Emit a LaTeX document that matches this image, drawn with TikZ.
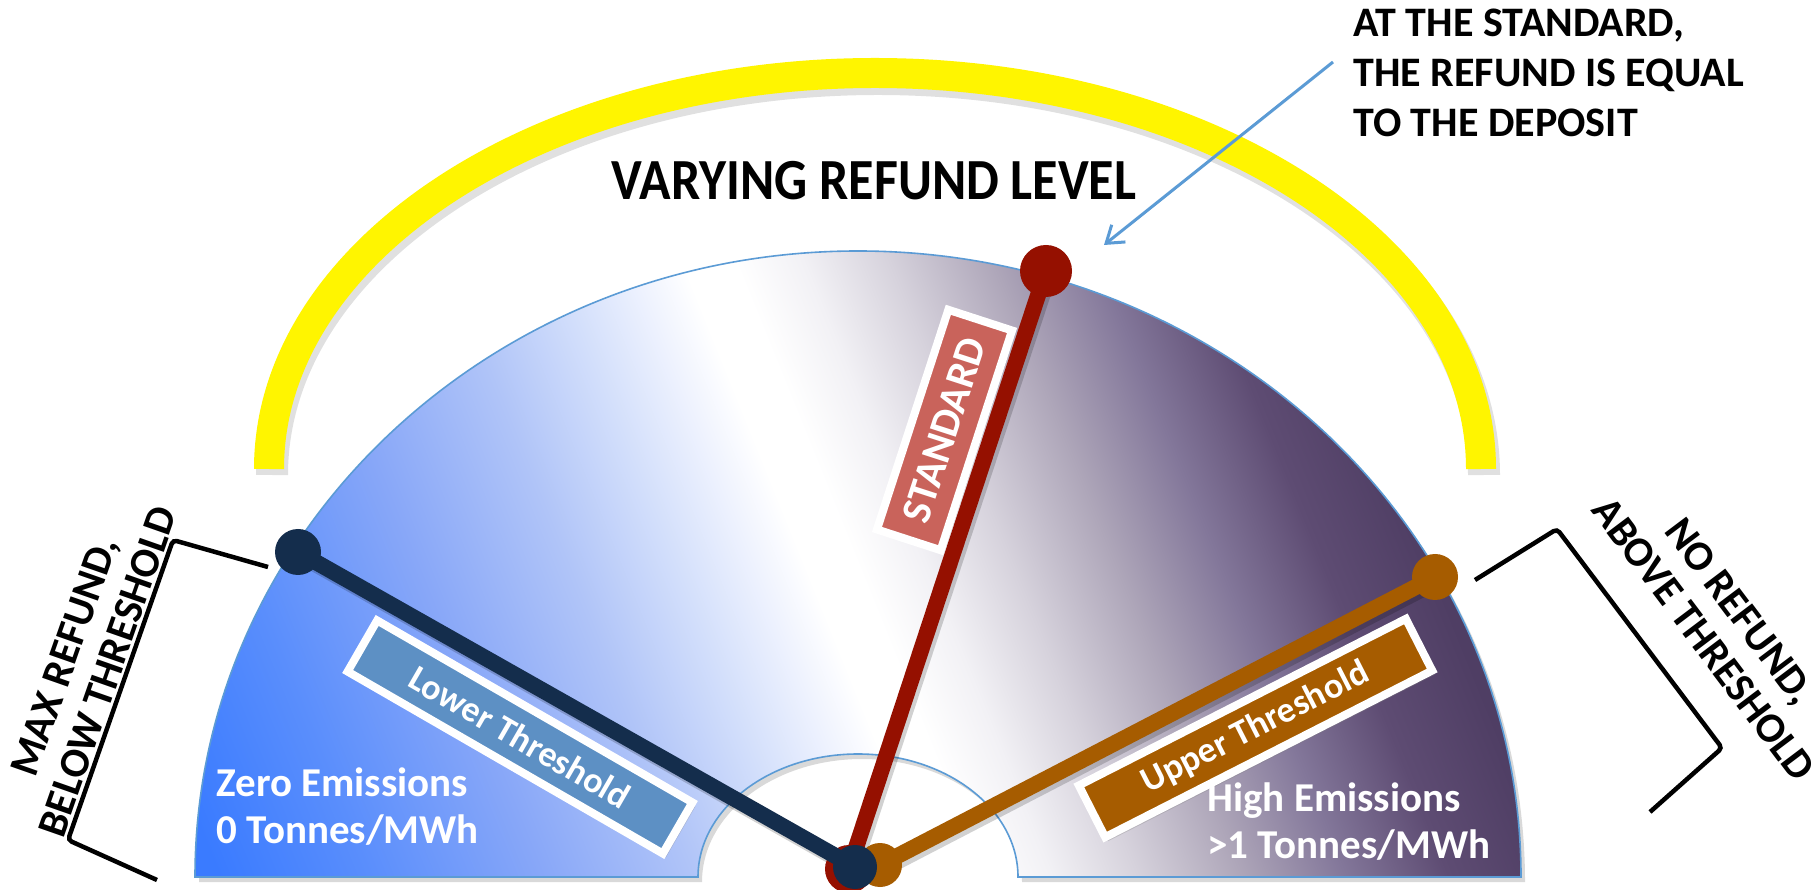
\documentclass[tikz,border=0pt]{standalone}
\usepackage{fontspec}
\setmainfont{Carlito}
\usetikzlibrary{arrows.meta,shadows}

% gauge gradient stops (blue -> white -> purple)
\definecolor{shA}{HTML}{3A7BFF}
\definecolor{shB}{HTML}{5A8EFC}
\definecolor{shC}{HTML}{88A7F8}
\definecolor{shD}{HTML}{B0C4F8}
\definecolor{shE}{HTML}{D3DFFB}
\definecolor{shF}{HTML}{EEF2FE}
\definecolor{shG}{HTML}{FFFFFF}
\definecolor{shH}{HTML}{F2F1F5}
\definecolor{shI}{HTML}{D6D2DC}
\definecolor{shJ}{HTML}{AEA6B9}
\definecolor{shK}{HTML}{83779A}
\definecolor{shL}{HTML}{5E4C73}
\definecolor{shM}{HTML}{4F3E64}
\definecolor{rimblue}{HTML}{5B9BD5}
\definecolor{navyneedle}{HTML}{142D4C}
\definecolor{redneedle}{HTML}{951000}
\definecolor{brownneedle}{HTML}{A65C00}
\definecolor{lowerfill}{HTML}{5D90C4}
\definecolor{standardfill}{HTML}{C9635B}
\definecolor{upperfill}{HTML}{A65C00}
\definecolor{bandyellow}{HTML}{FFF500}

% position along the gradient axis s (px) maps to 50bp + s/40
\pgfdeclarehorizontalshading{gaugeshade}{100bp}{color(0bp)=(shA); color(32.5bp)=(shA); color(36bp)=(shB); color(40bp)=(shC); color(43.5bp)=(shD); color(46bp)=(shE); color(47.8bp)=(shF); color(49bp)=(shG); color(50.2bp)=(shG); color(51.8bp)=(shH); color(53.8bp)=(shI); color(56.2bp)=(shJ); color(58.6bp)=(shK); color(61bp)=(shL); color(63.5bp)=(shM); color(100bp)=(shM)}

\begin{document}
\begin{tikzpicture}[x=0.5pt,y=0.5pt,
  needle/.style={line width=8pt},
  needleshadow/.style={line width=8pt, black, opacity=0.18},
  labelbox/.style={draw=white, line width=4pt, text=white, inner sep=0pt,
    font=\bfseries\fontsize{18pt}{21pt}\selectfont,
    drop shadow={opacity=0.3, shadow xshift=1.5pt, shadow yshift=-2pt}},
  titletext/.style={font=\bfseries\fontsize{26pt}{31pt}\selectfont},
  calltext/.style={font=\bfseries\fontsize{21pt}{25pt}\selectfont, inner sep=0pt},
  gaugetext/.style={text=white, inner sep=0pt, font=\bfseries\fontsize{20.5pt}{23.5pt}\selectfont},
  sidetext/.style={inner sep=0pt, font=\bfseries\fontsize{21pt}{23pt}\selectfont},
  bracket/.style={line width=2.25pt, rounded corners=2pt},
  callarrow/.style={draw=rimblue, line width=1.5pt, -{Straight Barb[length=8pt,width=11pt,line width=1.5pt]}}
]
\useasboundingbox (0,0) rectangle (1819,889);
\fill[white] (0,0) rectangle (1819,889);

% yellow band over the dial
\draw[line width=16pt, black, opacity=0.12] (272,414) arc[start angle=180, end angle=0, x radius=606, y radius=396];
\draw[line width=15pt, bandyellow] (269,420) arc[start angle=180, end angle=0, x radius=606, y radius=396];

\node[titletext, anchor=base] (title) at (874,689) {\scalebox{1}[1.12]{VARYING REFUND LEVEL}};

% dial shadow
\fill[black, opacity=0.15] (199,7) arc[start angle=180, end angle=0, x radius=663, y radius=626]
  -- (1022,7) arc[start angle=0, end angle=180, x radius=160, y radius=123] -- cycle;
% dial face
\begin{scope}
  \clip (195,12) arc[start angle=180, end angle=0, x radius=663, y radius=626]
    -- (1018,12) arc[start angle=0, end angle=180, x radius=160, y radius=123] -- cycle;
  \begin{scope}[transform canvas={rotate around={22:(858,300)}}]
    \shade[shading=gaugeshade] (-142,-700) rectangle (1858,1300);
  \end{scope}
\end{scope}
\draw[rimblue, line width=0.8pt] (195,12) arc[start angle=180, end angle=0, x radius=663, y radius=626]
  -- (1018,12) arc[start angle=0, end angle=180, x radius=160, y radius=123] -- cycle;

% needle end points
\coordinate (redhub) at (849,20);
\coordinate (redtip) at (1046,618);
\coordinate (brownhub) at (880,24);
\coordinate (browntip) at (1435,312);
\coordinate (navyhub) at (855,22);
\coordinate (navytip) at (298,337);

% needle shadows
\draw[needleshadow] ([shift={(3,-4)}]redhub) -- ([shift={(3,-4)}]redtip);
\draw[needleshadow] ([shift={(3,-4)}]brownhub) -- ([shift={(3,-4)}]browntip);
\draw[needleshadow] ([shift={(3,-4)}]navyhub) -- ([shift={(3,-4)}]navytip);

% needles
\draw[needle, redneedle] (redhub) -- (redtip);
\fill[redneedle] (redtip) circle[radius=26];
\fill[redneedle] (redhub) circle[radius=24];
\draw[needle, brownneedle] (brownhub) -- (browntip);
\fill[brownneedle] (browntip) circle[radius=23];
\fill[brownneedle] (brownhub) circle[radius=22];
\draw[needle, navyneedle] (navyhub) -- (navytip);
\fill[navyneedle] (navytip) circle[radius=23];
\fill[navyneedle] (navyhub) circle[radius=22];

% needle labels
\node[labelbox, fill=lowerfill, rotate=-30, minimum width=182pt, minimum height=29.5pt] (lowerbox) at (520,152) {Lower Threshold};
\node[labelbox, fill=standardfill, rotate=72, minimum width=115.5pt, minimum height=33.5pt,
  font=\bfseries\fontsize{21pt}{24pt}\selectfont] (standardbox) at (944.5,459) {STANDARD};
\node[labelbox, fill=upperfill, rotate=27, minimum width=183.5pt, minimum height=29pt] (upperbox) at (1255.5,161) {Upper Threshold};

% scale ends (base anchor sits on the last line)
\node[gaugetext, anchor=base west, align=left] (zero) at (216,46) {Zero Emissions\\0 Tonnes/MWh};
\node[gaugetext, anchor=base west, align=left] (high) at (1207,31) {High Emissions\\>1 Tonnes/MWh};

% side brackets
\draw[bracket] (268,322) -- (173,349) -- (68,49) -- (157,9);
\node[sidetext, rotate=70.7, align=center] (maxrefund) at (86,225) {MAX REFUND,\\BELOW THRESHOLD};
\draw[bracket] (1475,309) -- (1557,360) -- (1722,141) -- (1650,77);
\node[sidetext, rotate=-53, align=center] (norefund) at (1722,264) {NO REFUND,\\ABOVE THRESHOLD};

% callout
\node[calltext, anchor=base west, align=left] (callout) at (1353,752) {AT THE STANDARD,\\THE REFUND IS EQUAL\\TO THE DEPOSIT};
\coordinate (calloutfoot) at (1333,827);
\coordinate (callouttip) at (1104,644);
\draw[callarrow] (calloutfoot) -- (callouttip);
\end{tikzpicture}
\end{document}
